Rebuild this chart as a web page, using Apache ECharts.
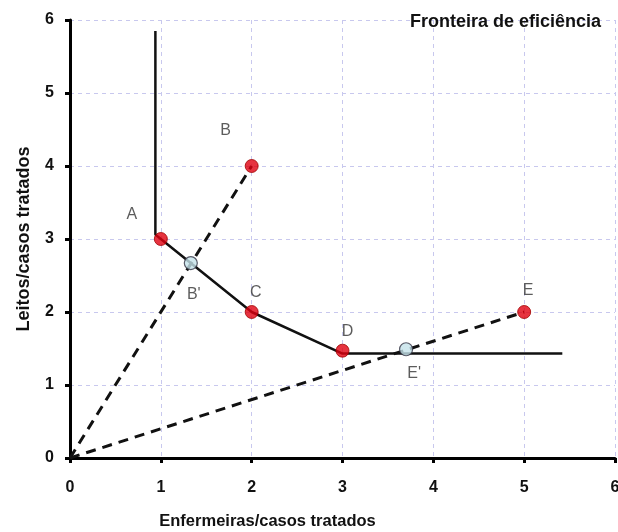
<!DOCTYPE html>
<html><head><meta charset="utf-8">
<script src="https://cdn.jsdelivr.net/npm/echarts@6/dist/echarts.min.js"></script>
<style>html,body{margin:0;padding:0;background:#fff}#c{width:618px;height:532px}</style>
</head><body><div id="c"></div>
<script>
const titleText = 'Fronteira de eficiência';
const xName = 'Enfermeiras/casos tratados';
const yName = 'Leitos/casos tratados';
const frontier = [[0.94,5.85],[0.94,3.06],[1,3],[2,2],[3,1.43],[5.42,1.43]];
const rayB = [[0,0],[2,4]];
const rayE = [[0,0],[5,2]];
const redPts = [
  {name:'A', value:[1,3], off:[-29,-24]},
  {name:'B', value:[2,4], off:[-26,-35]},
  {name:'C', value:[2,2], off:[4,-19]},
  {name:'D', value:[3,1.47], off:[5,-19]},
  {name:'E', value:[5,2], off:[4,-21]}
];
const bluePts = [
  {name:"B'", value:[1.33,2.67], off:[3,32]},
  {name:"E'", value:[3.7,1.49], off:[8,24]}
];
const font = 'Liberation Sans, Arial, sans-serif';
function pts(arr){
  return arr.map(p=>({name:p.name, value:p.value,
    label:{show:true, formatter:p.name, position:'inside', offset:p.off,
      color:'#333', fontSize:16, fontFamily:font}}));
}
const axisCommon = {
  min:0, max:6, interval:1,
  axisLine:{show:true, onZero:false, lineStyle:{color:'#000', width:3}},
  axisTick:{show:true, length:5, lineStyle:{color:'#000', width:3}},
  axisLabel:{color:'#111', fontSize:16, fontWeight:'bold', fontFamily:font},
  splitLine:{show:true, lineStyle:{color:'#c8c8ee', type:[4,4], width:1}},
  nameTextStyle:{color:'#111', fontSize:16.5, fontWeight:'bold', fontFamily:font}
};
const chart = echarts.init(document.getElementById('c'));
chart.setOption({
  backgroundColor:'#fff',
  animation:false,
  title:{text:titleText, right:12, top:8,
    textStyle:{fontSize:18, fontWeight:'bold', color:'#111', fontFamily:font}},
  grid:{left:70, right:3, top:20, bottom:74, outerBoundsMode:'none', containLabel:false},
  xAxis:Object.assign({}, axisCommon, {type:'value', name:xName, nameLocation:'middle', nameGap:55,
    nameTextStyle:Object.assign({}, axisCommon.nameTextStyle, {padding:[0,150,0,0]}),
    axisLabel:Object.assign({}, axisCommon.axisLabel, {margin:22})}),
  yAxis:Object.assign({}, axisCommon, {type:'value', name:yName, nameLocation:'middle', nameGap:37,
    nameTextStyle:Object.assign({}, axisCommon.nameTextStyle, {fontSize:18}),
    axisLabel:Object.assign({}, axisCommon.axisLabel, {margin:16})}),
  series:[
    {type:'line', data:rayB, symbol:'none', lineStyle:{color:'#111', width:3, type:[10,7]}, z:2},
    {type:'line', data:rayE, symbol:'none', lineStyle:{color:'#111', width:3, type:[10,7]}, z:2},
    {type:'line', data:frontier, symbol:'none', lineStyle:{color:'#111', width:2.5}, z:3},
    {type:'scatter', data:pts(redPts), symbolSize:13,
      itemStyle:{color:'#e00010', borderColor:'#a00000', borderWidth:1}, z:5},
    {type:'scatter', data:pts(bluePts), symbolSize:13,
      itemStyle:{color:'#c4e2ea', borderColor:'#334', borderWidth:1.2}, z:5}
  ]
});
</script></body></html>
